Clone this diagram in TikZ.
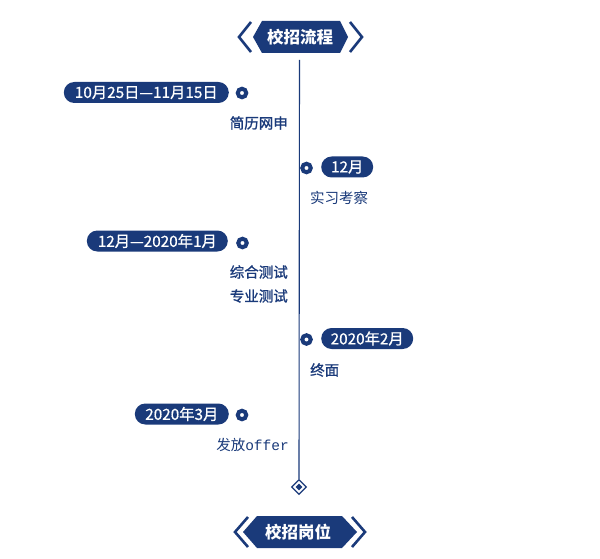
\documentclass[tikz,border=0pt]{standalone}
\usepackage{fontspec}
\setmainfont{Noto Sans CJK SC}
\newfontfamily\monof{Liberation Mono}
\newfontfamily\medfont[FakeBold=1.2]{Noto Sans CJK SC}
\newfontfamily\pillfont[FakeBold=0.7]{Noto Sans CJK SC}
\usetikzlibrary{shapes.geometric}
\definecolor{navy}{RGB}{26,58,122}
\begin{document}
\begin{tikzpicture}[x=1pt,y=-1pt,
  pill/.style={fill=navy, text=white, rounded corners=10.5pt, minimum height=21pt, inner xsep=0pt, inner ysep=0pt, font=\pillfont\fontsize{15.3}{17}\selectfont},
  ring/.style={circle, draw=navy, line width=4pt, fill=white, minimum size=8.5pt, inner sep=0pt},
  lbl/.style={text=navy, inner sep=0pt, font=\medfont\fontsize{14.5}{16}\selectfont},
  lbllight/.style={text=navy, inner sep=0pt, font=\fontsize{14.5}{16}\selectfont},
  bannertext/.style={text=white, inner sep=0pt, font=\fontsize{16.5}{18}\selectfont\bfseries},
  chev/.style={draw=navy, line width=2.6pt, miter limit=10},
  hexbody/.style={fill=navy}]
\useasboundingbox (0,0) rectangle (600,559);
\fill[white] (0,0) rectangle (600,559);

% top banner
\path[hexbody] (253,37) -- (262,21) -- (340,21) -- (348,37) -- (340,53) -- (262,53) -- cycle;
\draw[chev] (251,22) -- (239,37) -- (251,52);
\draw[chev] (350,22) -- (362,37) -- (350,52);
\node[bannertext] (title) at (300,37) {校招流程};

% timeline
\coordinate (linetop) at (299.5,60);
\node[diamond, draw=navy, line width=1.3pt, fill=white, minimum size=15pt, inner sep=0pt] (diam) at (299,487) {};
\node[diamond, fill=navy, minimum size=7pt, inner sep=0pt] (diamin) at (299,487) {};
\draw[navy, line width=1.1pt] (linetop) -- (diam.north);

% item 1
\node[pill, anchor=east, minimum width=165pt] (p1) at (229,92.5) {10月25日—11月15日};
\node[ring] (r1) at (242,93) {};
\node[lbl, anchor=east] (t1) at (288,123) {简历网申};

% item 2
\node[ring] (r2) at (306.5,168) {};
\node[pill, anchor=west, minimum width=52pt] (p2) at (321,167) {12月};
\node[lbllight, anchor=west] (t2) at (310,198) {实习考察};

% item 3
\node[pill, anchor=east, minimum width=141pt] (p3) at (228,241) {12月—2020年1月};
\node[ring] (r3) at (242.5,243) {};
\node[lbl, anchor=east] (t3a) at (288,272) {综合测试};
\node[lbl, anchor=east] (t3b) at (288,296) {专业测试};

% item 4
\node[ring] (r4) at (306.5,339.5) {};
\node[pill, anchor=west, minimum width=92pt] (p4) at (321,338.5) {2020年2月};
\node[lbl, anchor=west] (t4) at (310,370) {终面};

% item 5
\node[pill, anchor=east, minimum width=94pt] (p5) at (229,414) {2020年3月};
\node[ring] (r5) at (242,415) {};
\node[lbllight, anchor=east] (t5) at (289,445) {发放{\monof offer}};

% bottom banner
\path[hexbody] (243,532) -- (257,516) -- (342,516) -- (357,532) -- (342,548) -- (257,548) -- cycle;
\draw[chev] (248,517) -- (235,532) -- (248,547);
\draw[chev] (352,517) -- (365,532) -- (352,547);
\node[bannertext] (bottitle) at (298,532) {校招岗位};
\end{tikzpicture}
\end{document}
